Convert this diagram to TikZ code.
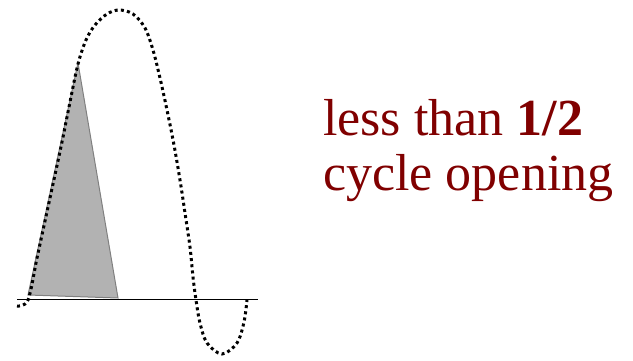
\documentclass[tikz,border=0pt]{standalone}
\usepackage{fontspec}
\setmainfont{Liberation Serif}
\definecolor{darkred}{RGB}{128,0,0}
\definecolor{trifill}{RGB}{178,178,178}
\definecolor{triedge}{RGB}{128,128,128}
\tikzset{
  wave/.style={line width=3pt, dash pattern=on 3pt off 3.2pt, black},
  label/.style={inner sep=0pt, anchor=base west, text=darkred, font=\fontsize{52}{60}\selectfont}
}
\begin{document}
\begin{tikzpicture}[x=1pt,y=-1pt]
\useasboundingbox (0,0) rectangle (633,360);
% triangle
\filldraw[fill=trifill, draw=triedge, line width=1pt] (28,295) -- (78,63) -- (118,298) -- cycle;
% axis
\draw[line width=1.3pt] (17,299.5) -- (258,299.5);
% wave
\draw[wave] plot[smooth, tension=0.55] coordinates {
 (17,306) (28,300) (37,258) (45,221) (53,184) (62,142) (70,102) (78,64) (86,40) (95,25) (107,14) (119,10)
 (133,14) (145,28) (153,50) (160,78) (167,110) (174,145) (180,180) (185,213) (190,247) (193,277)
 (196,300) (200,323) (207,343) (222,354) (237,343) (244,322) (247,300)};
% text
\node[label] (l1) at (323,135) {less than \textbf{1/2}};
\node[label] (l2) at (323,190) {cycle opening};
\end{tikzpicture}
\end{document}
